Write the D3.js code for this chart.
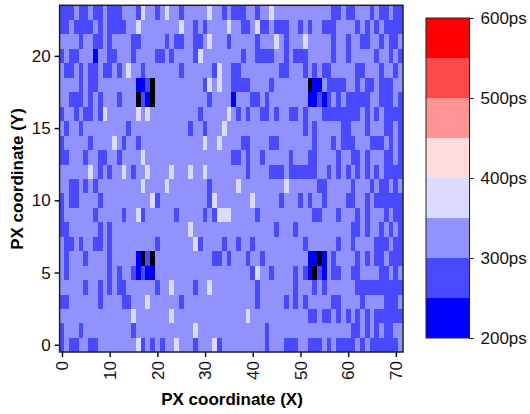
<!DOCTYPE html>
<html lang="en">
<head>
  <meta charset="UTF-8">
  <title>PX latency map</title>
  <script src="https://d3js.org/d3.v7.min.js"></script>
  <style>
    body { margin: 0; background: #fff; }
    svg { display: block; font-family: "Liberation Sans", Arial, sans-serif; }
    .tick-label { font-size: 17px; fill: #111; }
    .axis-title { font-size: 17px; font-weight: bold; fill: #000; }
  </style>
</head>
<body>
<svg width="530" height="414"></svg>
<script>
  // Most pixels sit in the 300-350ps band, so only the others are listed.
  // One string per row, row 0 first. Each holds pixel columns or column ranges.
  const baseValue = 325;
  const cols275 = [
    "0 2-3 6-7 17 19 21 28 33 43 47-49 52-54 56 58-61 63 65-70",
    "0 4 15 43 61-62 64 66 68-69",
    "52-53 55-56 58 60 62 64 66-71",
    "0-1 8 13-14 25 41 47 49 51 57-58 63 68-70",
    "5 8 10 12-13 20 28 41 49 53 55 62-71",
    "1 10 12 15 17 40 44 49 51 54 57-58 61-62 67-68 70",
    "1 5 10 18 32-33 35 39 42 57 62 64 66-67 69-71",
    "1-2 4 7-8 10 20 29 34 37 40 51 58 61 66-68 70-71",
    "0-1 8 10 45 49 61-62 64 67 69 71",
    "0 7 13 17 24 30 32 41 53-54 58 62 64 68 70-71",
    "0 2-3 8 20 31 46 50 52 55 60-61 64 66-71",
    "2-3 5 7 31 54-55 61 65 67-68 70",
    "8 10 15 39 44-46 48-53 56 58 60 62 64 66 68-71",
    "0-1 5 8-9 12 36-37 39 42 48 52-53 58 61-62 64 68-69 71",
    "0 6 13 16 38-39 44-45 53 57 59-61 65-67 69 71",
    "1 4 14 27 30 51 53 59-60 64 68-69 71",
    "0 3 5-6 8 29 37 39 42-43 45 48-49 51 55-62 64 66 68-71",
    "2-4 6 8 12 17 31 40-41 43 54 56 58 60-64 67-69 71",
    "4 6-7 18 30 36-39 44 56-59 62 64-65 67-69",
    "1-2 4 6-7 9-10 12 17 25 32 36-37 46-47 51 53 55-56 62-63 67 70",
    "0 2-3 10-11 15 20-21 23 28 38 41-44 47 49-51 57 60 66 69 71",
    "4 7-8 10 15-16 22 24-25 28-29 35 41 47 57 60 63-64 67 69-70",
    "0-1 3-6 8 10-13 28 30 38-39 42-43 45-47 50 52 55-57 62 64 66 68-71",
    "0-2 4-5 7-8 10-12 16 20 25 34 36-38 41 57-58 60-61 65 67-68 70-71"
  ];
  const cols375 = [
    "16 24 32", "28", "15 23 39", "18", "23 31", "41", "", "28", "27", "16 33-35",
    "19 32 40", "17 22 37 47", "6 13 18 23 27 30", "17", "11 30 33", "34",
    "9 16 18 35", "", "31 33", "14 33", "29", "31 45 51", "16 25 35 41", "17 22 31 44"
  ];
  // rows that have the fastest pixels: [row, columns]
  const cols225 = [[5, "16 18-19 52 55"], [6, "16 52-53 55"], [17, "18 36 52-53 55"], [18, "16-17 53-54"], [20, "7"]];
  const cols175 = [[5, "53"], [6, "17 19 54"], [17, "16 19"], [18, "19 52"]];

  const xTicks = [0, 10, 20, 30, 40, 50, 60, 70];
  const yTicks = [0, 5, 10, 15, 20];
  const barTicks = [200, 300, 400, 500, 600];
  const barEdges = [200, 250, 300, 350, 400, 450, 500, 550, 600];
  const barColors = ["#000000", "#0000ff", "#4949ff", "#9292ff", "#dbdbff", "#ffdbdb", "#ff9292", "#ff4949", "#ff0000"];

  const nCols = 72, nRows = 24;

  function parseCols(str) {
    const out = [];
    str.split(" ").filter(s => s).forEach(part => {
      const ends = part.split("-").map(Number);
      for (let c = ends[0]; c <= (ends[1] === undefined ? ends[0] : ends[1]); c++) out.push(c);
    });
    return out;
  }

  // Fill the grid from the lists above
  const grid = d3.range(nRows).map(() => d3.range(nCols).map(() => baseValue));
  cols275.forEach((s, r) => parseCols(s).forEach(c => { grid[r][c] = 275; }));
  cols375.forEach((s, r) => parseCols(s).forEach(c => { grid[r][c] = 375; }));
  cols225.forEach(d => parseCols(d[1]).forEach(c => { grid[d[0]][c] = 225; }));
  cols175.forEach(d => parseCols(d[1]).forEach(c => { grid[d[0]][c] = 175; }));
  const cells = grid.flatMap((row, r) => row.map((v, c) => ({ r, c, v })));

  const svg = d3.select("svg");
  const x = d3.scaleLinear().domain([-0.5, 71.5]).range([59.6, 403]);
  const y = d3.scaleLinear().domain([-0.5, 23.5]).range([352, 5.3]);
  const color = d3.scaleThreshold().domain(barEdges.slice(0, -1)).range(barColors);
  const barY = d3.scaleLinear().domain([200, 600]).range([338, 18]);

  // Heatmap cells
  svg.append("g")
    .attr("shape-rendering", "crispEdges")
    .selectAll("rect")
    .data(cells)
    .join("rect")
    .attr("x", d => x(d.c - 0.5))
    .attr("y", d => y(d.r + 0.5))
    .attr("width", x(1) - x(0) + 0.3)
    .attr("height", y(0) - y(1) + 0.3)
    .attr("fill", d => color(d.v));

  // Frame
  svg.append("rect")
    .attr("x", x(-0.5)).attr("y", y(23.5))
    .attr("width", x(71.5) - x(-0.5)).attr("height", y(-0.5) - y(23.5))
    .attr("fill", "none").attr("stroke", "#222").attr("stroke-width", 1.5);

  // Axes
  const xAxis = svg.append("g")
    .attr("transform", `translate(0,${y(-0.5)})`)
    .call(d3.axisBottom(x).tickValues(xTicks).tickSize(5).tickSizeOuter(0));
  xAxis.select(".domain").remove();
  xAxis.selectAll("line").attr("stroke", "#111").attr("stroke-width", 1.5);
  xAxis.selectAll("text")
    .attr("class", "tick-label")
    .attr("transform", "rotate(-90)")
    .attr("x", -9).attr("y", 0).attr("dy", "0.34em")
    .attr("text-anchor", "end");

  const yAxis = svg.append("g")
    .attr("transform", `translate(${x(-0.5)},0)`)
    .call(d3.axisLeft(y).tickValues(yTicks).tickSize(5).tickSizeOuter(0));
  yAxis.select(".domain").remove();
  yAxis.selectAll("line").attr("stroke", "#111").attr("stroke-width", 1.5);
  yAxis.selectAll("text").attr("class", "tick-label").attr("x", -9);

  svg.append("text").attr("class", "axis-title")
    .attr("x", 232).attr("y", 405).attr("text-anchor", "middle")
    .text("PX coordinate (X)");
  svg.append("text").attr("class", "axis-title")
    .attr("transform", "translate(23,179) rotate(-90)").attr("text-anchor", "middle")
    .text("PX coordinate (Y)");

  // Colour bar
  const barBands = barEdges.slice(0, -1).map((v, i) => [v, barEdges[i + 1]]);
  svg.append("g")
    .attr("shape-rendering", "crispEdges")
    .selectAll("rect")
    .data(barBands)
    .join("rect")
    .attr("x", 426).attr("width", 43.5)
    .attr("y", d => barY(d[1]))
    .attr("height", d => barY(d[0]) - barY(d[1]))
    .attr("fill", d => color(d[0]));
  svg.append("rect")
    .attr("x", 426).attr("y", barY(600)).attr("width", 43.5).attr("height", barY(200) - barY(600))
    .attr("fill", "none").attr("stroke", "#222").attr("stroke-width", 1);

  const barAxis = svg.append("g")
    .attr("transform", "translate(469.5,0)")
    .call(d3.axisRight(barY).tickValues(barTicks).tickSize(4).tickSizeOuter(0).tickFormat(d => d + "ps"));
  barAxis.select(".domain").remove();
  barAxis.selectAll("line").attr("stroke", "#111");
  barAxis.selectAll("text").attr("class", "tick-label").attr("x", 11);
</script>
</body>
</html>
